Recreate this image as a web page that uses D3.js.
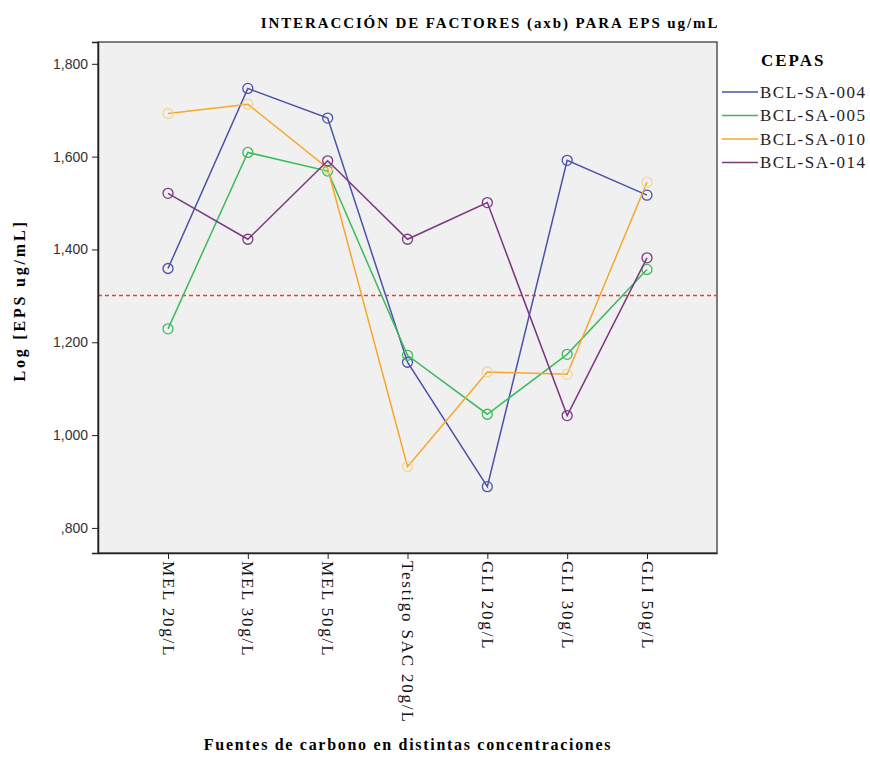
<!DOCTYPE html>
<html>
<head>
<meta charset="utf-8">
<script src="https://cdn.jsdelivr.net/npm/d3@7"></script>
<style>
  body { margin: 0; background: white; }
</style>
</head>
<body>
<div id="chart"></div>
<script>
// data
let categories = ['MEL 20g/L', 'MEL 30g/L', 'MEL 50g/L', 'Testigo SAC 20g/L', 'GLI 20g/L', 'GLI 30g/L', 'GLI 50g/L']
let strains = ['BCL-SA-004', 'BCL-SA-005', 'BCL-SA-010', 'BCL-SA-014']
let sa004 = [1.359, 1.747, 1.683, 1.157, 0.889, 1.592, 1.517]
let sa005 = [1.229, 1.609, 1.569, 1.172, 1.045, 1.174, 1.357]
let sa010 = [1.693, 1.713, 1.575, 0.932, 1.136, 1.131, 1.545]
let sa014 = [1.521, 1.422, 1.591, 1.422, 1.501, 1.042, 1.382]
let yTicks = [0.8, 1.0, 1.2, 1.4, 1.6, 1.8]
let refLine = 1.301

let series = [sa004, sa005, sa010, sa014]
let lineColors = ['#4b52a8', '#3dba5c', '#f5a72a', '#7b3880']
let markerColors = ['#4b52a8', '#3dba5c', '#efd79a', '#7b3880']

let serif = "'Liberation Serif', 'Times New Roman', serif"

let margin = { top: 42, left: 98, right: 153, bottom: 204 }
let width = 870 - margin.left - margin.right
let height = 757 - margin.top - margin.bottom

let svg = d3
  .select('#chart')
  .append('svg')
  .attr('width', 870)
  .attr('height', 757)
  .append('g')
  .attr('transform', 'translate(' + margin.left + ',' + margin.top + ')')

let x = d3.scalePoint().domain(categories).range([0, width]).padding(0.877)
let y = d3.scaleLinear().domain([0.746, 1.847]).range([height, 0])

// plot background
svg
  .append('rect')
  .attr('width', width)
  .attr('height', height)
  .attr('fill', '#f0f0f0')
  .attr('stroke', '#555')
  .attr('stroke-width', 1.5)

// reference line (log 20)
let ry = Math.round(y(refLine)) + 0.5
svg
  .append('line')
  .attr('x1', 0)
  .attr('x2', width)
  .attr('y1', ry)
  .attr('y2', ry)
  .attr('stroke', '#f03c3c')
  .attr('stroke-width', 1.3)
  .attr('stroke-dasharray', '4,3')

let fmt = d => d3.format('.3f')(d).replace('.', ',').replace(/^0/, '')

let yAxis = svg
  .append('g')
  .call(d3.axisLeft(y).tickValues(yTicks).tickSize(6).tickFormat(fmt))
yAxis.select('.domain').attr('stroke', '#222').attr('stroke-width', 1.5)
yAxis.selectAll('line').attr('stroke', '#222')
yAxis
  .selectAll('text')
  .attr('font-family', "'Liberation Sans', Arial, sans-serif")
  .attr('font-size', 14)
  .attr('fill', '#333')
  .attr('dx', -1)

let xAxis = svg
  .append('g')
  .attr('transform', 'translate(0,' + height + ')')
  .call(d3.axisBottom(x).tickSize(6).tickSizeOuter(0))
xAxis.select('.domain').attr('stroke', '#222').attr('stroke-width', 1.5)
xAxis.selectAll('line').attr('stroke', '#222')
xAxis
  .selectAll('text')
  .attr('font-family', serif)
  .attr('font-size', 17)
  .attr('letter-spacing', 1.8)
  .attr('fill', '#111')
  .attr('transform', 'rotate(90)')
  .attr('text-anchor', 'start')
  .attr('x', 8)
  .attr('y', 0)
  .attr('dy', '0.35em')

let line = d3
  .line()
  .x((d, i) => x(categories[i]))
  .y(d => y(d))

series.forEach((vals, k) => {
  svg
    .append('path')
    .datum(vals)
    .attr('d', line)
    .attr('fill', 'none')
    .attr('stroke', lineColors[k])
    .attr('stroke-width', 1.5)

  svg
    .selectAll('.pt' + k)
    .data(vals)
    .enter()
    .append('circle')
    .attr('cx', (d, i) => x(categories[i]))
    .attr('cy', d => y(d))
    .attr('r', 5)
    .attr('fill', 'none')
    .attr('stroke', markerColors[k])
    .attr('stroke-width', 1.3)
})

// title
svg
  .append('text')
  .text('INTERACCIÓN DE FACTORES (axb) PARA EPS ug/mL')
  .attr('x', 392)
  .attr('y', -14)
  .attr('text-anchor', 'middle')
  .attr('font-family', serif)
  .attr('font-weight', 'bold')
  .attr('font-size', 15)
  .attr('letter-spacing', 1.9)

// axis titles
svg
  .append('text')
  .text('Log [EPS ug/mL]')
  .attr('transform', 'translate(-73,' + (height / 2 + 3) + ') rotate(-90)')
  .attr('text-anchor', 'middle')
  .attr('font-family', serif)
  .attr('font-weight', 'bold')
  .attr('font-size', 16)
  .attr('letter-spacing', 2.8)

svg
  .append('text')
  .text('Fuentes de carbono en distintas concentraciones')
  .attr('x', 310)
  .attr('y', 708)
  .attr('text-anchor', 'middle')
  .attr('font-family', serif)
  .attr('font-weight', 'bold')
  .attr('font-size', 16)
  .attr('letter-spacing', 1.7)

// legend
let legend = svg.append('g').attr('transform', 'translate(' + (width + 5) + ',0)')
legend
  .append('text')
  .text('CEPAS')
  .attr('x', 39)
  .attr('y', 24)
  .attr('font-family', serif)
  .attr('font-weight', 'bold')
  .attr('font-size', 17)
  .attr('letter-spacing', 2)

strains.forEach((s, i) => {
  let yy = 50 + i * 23.5
  legend
    .append('line')
    .attr('x1', 0)
    .attr('x2', 36)
    .attr('y1', yy)
    .attr('y2', yy)
    .attr('stroke', lineColors[i])
    .attr('stroke-width', 1.5)
  legend
    .append('text')
    .text(s)
    .attr('x', 38)
    .attr('y', yy)
    .attr('dy', '0.35em')
    .attr('font-family', serif)
    .attr('font-size', 17)
    .attr('letter-spacing', 1.5)
    .attr('fill', '#222')
})
</script>
</body>
</html>
